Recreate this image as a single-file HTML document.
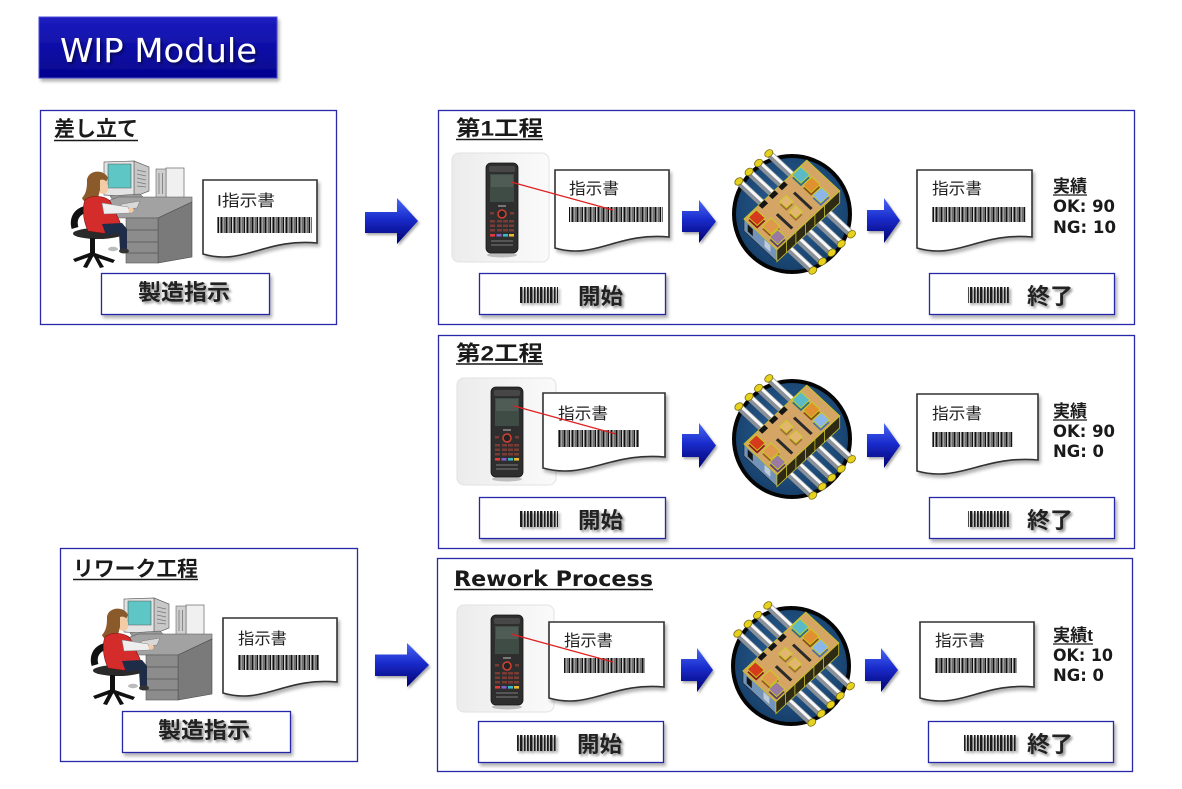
<!DOCTYPE html>
<html><head><meta charset="utf-8"><style>
html,body{margin:0;padding:0;background:#fff;}
svg{display:block;}
.cj{font-family:"Liberation Sans","Noto Sans CJK JP",sans-serif;}
.dv{font-family:"DejaVu Sans","Liberation Sans","Noto Sans CJK JP",sans-serif;}
</style></head><body>
<svg width="1182" height="789" viewBox="0 0 1182 789" xmlns="http://www.w3.org/2000/svg">
<defs>
 <filter id="sh" x="-10%" y="-10%" width="130%" height="140%"><feDropShadow dx="2" dy="3" stdDeviation="1.6" flood-color="#000" flood-opacity="0.3"/></filter>
 <filter id="tsh" x="-10%" y="-20%" width="130%" height="160%"><feDropShadow dx="2" dy="2" stdDeviation="1.3" flood-color="#000" flood-opacity="0.45"/></filter>
 <filter id="ash" x="-10%" y="-10%" width="130%" height="130%"><feDropShadow dx="1.5" dy="2" stdDeviation="1.2" flood-color="#000" flood-opacity="0.35"/></filter>
 <pattern id="bc" patternUnits="userSpaceOnUse" width="13" height="40">
  <rect x="0" y="0" width="1.6" height="40" fill="#111"/>
  <rect x="2.6" y="0" width="1" height="40" fill="#111"/>
  <rect x="4.4" y="0" width="2.2" height="40" fill="#111"/>
  <rect x="7.6" y="0" width="1" height="40" fill="#111"/>
  <rect x="9.4" y="0" width="1.6" height="40" fill="#111"/>
  <rect x="11.8" y="0" width="0.8" height="40" fill="#111"/>
 </pattern>
 <pattern id="bc2" patternUnits="userSpaceOnUse" width="10" height="40">
  <rect x="0" y="0" width="2.4" height="40" fill="#1a1a1a"/>
  <rect x="4" y="0" width="1.6" height="40" fill="#1a1a1a"/>
  <rect x="7" y="0" width="1.8" height="40" fill="#1a1a1a"/>
 </pattern>
 <linearGradient id="ag" x1="0" y1="0" x2="0" y2="1">
  <stop offset="0" stop-color="#4868f4"/>
  <stop offset="0.45" stop-color="#1a2ccc"/>
  <stop offset="1" stop-color="#00006e"/>
 </linearGradient>
 <linearGradient id="wg" x1="0" y1="0" x2="0" y2="1">
  <stop offset="0" stop-color="#1c1cc0"/>
  <stop offset="1" stop-color="#03038e"/>
 </linearGradient>
 <linearGradient id="pg" x1="0" y1="0" x2="1" y2="0">
  <stop offset="0" stop-color="#ececec"/>
  <stop offset="1" stop-color="#fafafa"/>
 </linearGradient>
 <radialGradient id="fg" cx="0.5" cy="0.45" r="0.55">
  <stop offset="0" stop-color="#2d659c"/>
  <stop offset="1" stop-color="#163f6a"/>
 </radialGradient>

 <g id="rU">
  <line x1="0" y1="-31" x2="0" y2="4" stroke="#8a9098" stroke-width="7.5"/>
  <line x1="1.5" y1="-31" x2="1.5" y2="4" stroke="#f8f8f8" stroke-width="3"/>
  <ellipse cx="0" cy="-31" rx="4.4" ry="3.3" fill="#e6d21e" stroke="#7a6c10" stroke-width=".8"/>
 </g>
 <g id="rL">
  <line x1="0" y1="45" x2="0" y2="76" stroke="#8a9098" stroke-width="7.5"/>
  <line x1="1.5" y1="45" x2="1.5" y2="76" stroke="#f8f8f8" stroke-width="3"/>
  <ellipse cx="0" cy="76" rx="4.4" ry="3.3" fill="#e6d21e" stroke="#7a6c10" stroke-width=".8"/>
 </g>

 <g id="fac">
  <circle r="58" fill="url(#fg)" stroke="#050505" stroke-width="4"/>
  <g transform="matrix(0.73,-0.684,0.732,0.682,-48,5)">
   <use href="#rU" x="24"/><use href="#rU" x="38"/><use href="#rU" x="51"/><use href="#rU" x="65"/>
  </g>
  <polygon points="-48,5 -15.1,35.7 -15.1,47.7 -48,17" fill="#7393b8" stroke="#222" stroke-width=".6"/>
  <polygon points="-44.3,10.4 -39.2,15.2 -39.2,22.2 -44.3,17.4" fill="#151515"/>
  <polygon points="-27.5,25.6 -21.6,31.1 -21.6,38.1 -27.5,32.6" fill="#c0cad8"/>
  <polygon points="-15.1,35.7 47.7,-23.1 47.7,-11.1 -15.1,47.7" fill="#2e2a14" stroke="#c9c12a" stroke-width=".8"/>
  <g stroke="#c9c12a" stroke-width=".8">
   <line x1="-5.6" y1="26.8" x2="-5.6" y2="38.8"/><line x1="3.9" y1="17.9" x2="3.9" y2="29.9"/>
   <line x1="13.4" y1="9" x2="13.4" y2="21"/><line x1="22.9" y1="0.1" x2="22.9" y2="12.1"/>
   <line x1="32.4" y1="-8.8" x2="32.4" y2="3.2"/>
  </g>
  <polygon points="-48,5 14.8,-53.8 47.7,-23.1 -15.1,35.7" fill="#d4a565" stroke="#c9c12a" stroke-width="1"/>
  <g transform="matrix(0.73,-0.684,0.732,0.682,-48,5)">
   <rect x="20" y="0" width="8" height="5" fill="#151515"/>
   <rect x="34" y="0" width="8" height="5" fill="#151515"/>
   <rect x="47" y="0" width="8" height="5" fill="#151515"/>
   <rect x="24.5" y="19" width="3" height="21" fill="#2a2a2a"/>
   <rect x="52" y="15" width="3" height="24" fill="#2a2a2a"/>
   <rect x="2" y="4" width="11" height="12" fill="#8a1c0c"/>
   <rect x="5" y="20" width="12" height="12" fill="#9a5a20"/>
   <rect x="2" y="33" width="11" height="11" fill="#5a4060"/>
   <rect x="63" y="3" width="12" height="12" fill="#2a7080"/>
   <rect x="63" y="18" width="12" height="11" fill="#8a5010"/>
   <rect x="62" y="32" width="12" height="11" fill="#4a70a8"/>
   <rect x="35" y="14" width="9" height="9" fill="#a07030"/>
   <rect x="34" y="28" width="9" height="9" fill="#a07030"/>
  </g>
  <g transform="translate(0,-3)"><g transform="matrix(0.73,-0.684,0.732,0.682,-48,5)" stroke="#c8d020" stroke-width=".9">
   <rect x="2" y="4" width="11" height="12" fill="#d63a1c"/>
   <rect x="5" y="20" width="12" height="12" fill="#e0984c"/>
   <rect x="2" y="33" width="11" height="11" fill="#9a7aa2"/>
   <rect x="63" y="3" width="12" height="12" fill="#5cbac8"/>
   <rect x="63" y="18" width="12" height="11" fill="#e09030"/>
   <rect x="62" y="32" width="12" height="11" fill="#8cb6ea"/>
   <rect x="35" y="14" width="9" height="9" fill="#e4b472"/>
   <rect x="34" y="28" width="9" height="9" fill="#e4b472"/>
  </g></g>
  <g transform="matrix(0.73,-0.684,0.732,0.682,-48,17)">
   <use href="#rL" x="18"/><use href="#rL" x="31"/><use href="#rL" x="44"/><use href="#rL" x="57"/><use href="#rL" x="71"/>
  </g>
 </g>

 <g id="phone">
  <ellipse cx="16" cy="92" rx="15" ry="2.5" fill="#000" opacity=".22"/>
  <rect x="0" y="0" width="32" height="90" rx="5" fill="#2e2e2e" stroke="#151515" stroke-width=".8"/>
  <rect x="3" y="3" width="26" height="6" rx="2" fill="#474747"/>
  <rect x="4" y="11" width="24" height="28" fill="#3f4c46"/>
  <rect x="5" y="12" width="22" height="12" fill="#5d6b64" opacity=".5"/>
  <rect x="12" y="42" width="8" height="2" fill="#777"/>
  <circle cx="16" cy="51" r="4" fill="#222" stroke="#d04030" stroke-width="1.6"/>
  <g fill="#7a3b34">
   <rect x="4" y="49" width="4" height="2.5"/><rect x="24" y="49" width="4" height="2.5"/>
   <rect x="4" y="57" width="5" height="2.5"/><rect x="11" y="57" width="5" height="2.5"/><rect x="17" y="57" width="5" height="2.5"/><rect x="23" y="57" width="5" height="2.5"/>
   <rect x="4" y="61.5" width="5" height="2.5"/><rect x="11" y="61.5" width="5" height="2.5"/><rect x="17" y="61.5" width="5" height="2.5"/><rect x="23" y="61.5" width="5" height="2.5"/>
   <rect x="4" y="66" width="5" height="2.5"/><rect x="11" y="66" width="5" height="2.5"/><rect x="17" y="66" width="5" height="2.5"/><rect x="23" y="66" width="5" height="2.5"/>
  </g>
  <rect x="4" y="71" width="5" height="2.6" fill="#e03a3a"/>
  <rect x="10.5" y="71" width="5" height="2.6" fill="#8060c8"/>
  <rect x="17" y="71" width="5" height="2.6" fill="#3ab8c8"/>
  <rect x="23" y="71" width="5" height="2.6" fill="#e8b830"/>
  <rect x="5" y="77" width="22" height="2" fill="#555"/>
  <rect x="5" y="81" width="22" height="2" fill="#555"/>
 </g>

 <g id="person">
  <rect x="96" y="8" width="18" height="33" fill="#f0f0f0" stroke="#666" stroke-width=".7"/>
  <rect x="86" y="9" width="10" height="32" fill="#cfcfcf" stroke="#666" stroke-width=".6"/>
  <line x1="89" y1="13" x2="89" y2="34" stroke="#777" stroke-width=".8"/>
  <line x1="92.5" y1="13" x2="92.5" y2="34" stroke="#777" stroke-width=".8"/>
  <polygon points="64,1 79,7 79,31 64,37" fill="#c8c8c8" stroke="#666" stroke-width=".7"/>
  <g stroke="#777" stroke-width=".7"><line x1="67" y1="10" x2="76" y2="12"/><line x1="67" y1="14" x2="76" y2="16"/><line x1="67" y1="18" x2="76" y2="20"/><line x1="67" y1="22" x2="76" y2="24"/><line x1="67" y1="26" x2="76" y2="27"/></g>
  <polygon points="34,2 64,1 64,37 34,35" fill="#e4e4e4" stroke="#666" stroke-width=".7"/>
  <polygon points="38,4 61,4 61,28 38,28" fill="#5fc6c6" stroke="#555" stroke-width=".6"/>
  <polygon points="40,36 70,34 76,40 44,42" fill="#9a9a9a" stroke="#555" stroke-width=".5"/>
  <polygon points="30,44 48,37 122,37 122,42 88,58 40,58" fill="#a2a2a2" stroke="#555" stroke-width=".6"/>
  <polygon points="88,58 122,42 122,97 88,103" fill="#7a7a7a" stroke="#4a4a4a" stroke-width=".6"/>
  <rect x="56" y="58" width="32" height="45" fill="#8c8c8c" stroke="#555" stroke-width=".6"/>
  <g stroke="#555" stroke-width=".7"><line x1="56" y1="70" x2="88" y2="70"/><line x1="56" y1="82" x2="88" y2="82"/><line x1="56" y1="93" x2="88" y2="93"/></g>
  <polygon points="52,44 70,41 67,48 48,50" fill="#d8d8d8" stroke="#777" stroke-width=".5"/>
  <path d="M5,68 C1,54 14,45 28,51" fill="none" stroke="#111" stroke-width="7"/>
  <rect x="17" y="55" width="6" height="20" fill="#111"/>
  <ellipse cx="28" cy="73.5" rx="25" ry="5.5" fill="#2a2a2a"/>
  <path d="M17,22 C16,10 34,8 38,18 L36,22 C32,20 30,24 30,30 L28,38 C24,44 14,44 12,38 C16,34 17,28 17,22 Z" fill="#8b5a2b"/>
  <path d="M30,20 C36,18 39,24 38,30 C37,34 33,35 30,33 Z" fill="#f3cba5"/>
  <path d="M15,40 C20,35 34,35 40,41 L50,62 C52,70 44,74 32,73 L18,71 C13,60 12,48 15,40 Z" fill="#d42b2b" stroke="#7a1010" stroke-width=".6"/>
  <path d="M32,43 L58,47 L60,53 L34,54 Z" fill="#eeeeee" stroke="#888" stroke-width=".5"/>
  <circle cx="61" cy="50" r="2.6" fill="#f3cba5"/>
  <path d="M32,64 L52,63 L57,69 L57,90 L50,90 L49,73 L36,75 Z" fill="#1f2c48"/>
  <ellipse cx="54" cy="91" rx="5" ry="2.5" fill="#333"/>
  <ellipse cx="43" cy="89" rx="5" ry="2.2" fill="#bbb"/>
  <rect x="20" y="78" width="5" height="15" fill="#111"/>
  <path d="M22,92 L3,99 L5,102 L22,96 L43,103 L45,100 Z M20,94 L13,107 L17,108 L24,95 Z M23,95 L30,108 L34,107 L26,94 Z" fill="#111"/>
 </g>
</defs>

<rect x="39" y="17" width="238" height="61" fill="url(#wg)" stroke="#4a4ad8" stroke-width="1" filter="url(#sh)"/>
<text x="60" y="62" class="dv" font-size="33" fill="#fff" textLength="197" lengthAdjust="spacingAndGlyphs" filter="url(#tsh)">WIP Module</text>

<g fill="#fff" stroke="#2828a8" stroke-width="1.3">
 <rect x="40.5" y="110.5" width="296" height="214"/>
 <rect x="438.5" y="110.5" width="696" height="214"/>
 <rect x="438.5" y="335.5" width="696" height="213"/>
 <rect x="437.5" y="558.5" width="695" height="213"/>
 <rect x="60.5" y="548.5" width="297" height="213"/>
</g>

<g class="cj" font-weight="bold" font-size="21" fill="#1a1a1a">
 <text x="54" y="136" textLength="84" lengthAdjust="spacingAndGlyphs">差し立て</text>
 <text x="456" y="135.5" textLength="87" lengthAdjust="spacingAndGlyphs">第1工程</text>
 <text x="456" y="360.5" textLength="87" lengthAdjust="spacingAndGlyphs">第2工程</text>
 <text x="73" y="576" textLength="125" lengthAdjust="spacingAndGlyphs">リワーク工程</text>
</g>
<text x="454" y="586" class="dv" font-weight="bold" font-size="21" fill="#1a1a1a" textLength="199" lengthAdjust="spacingAndGlyphs">Rework Process</text>
<g stroke="#1a1a1a" stroke-width="1.6">
 <line x1="54" y1="140.5" x2="138" y2="140.5"/>
 <line x1="456" y1="139.5" x2="543" y2="139.5"/>
 <line x1="456" y1="364" x2="543" y2="364"/>
 <line x1="454" y1="589.5" x2="653" y2="589.5"/>
 <line x1="73" y1="579.5" x2="198" y2="579.5"/>
</g>

<use href="#person" transform="translate(70,160)"/>
<use href="#person" transform="translate(90,597)"/>

<rect x="452" y="153" width="97" height="109" rx="7" fill="url(#pg)" stroke="#e2e2e2"/>
<rect x="457" y="378" width="99" height="107" rx="7" fill="url(#pg)" stroke="#e2e2e2"/>
<rect x="457" y="605" width="97" height="107" rx="7" fill="url(#pg)" stroke="#e2e2e2"/>
<use href="#phone" transform="translate(486,163)"/>
<use href="#phone" transform="translate(491,387)"/>
<use href="#phone" transform="translate(491,615)"/>

<g fill="#fff" stroke="#333" stroke-width="1.6" filter="url(#sh)">
 <path d="M203,180 H317 V243 C265.7,238 242.9,266 203,254 Z"/>
 <path d="M555,170 H669 V237 C617.7,232 594.9,260 555,248 Z"/>
 <path d="M917,170 H1032 V237 C980.3,232 957.3,260 917,248 Z"/>
 <path d="M543,393 H665 V457 C610.1,452 585.7,480 543,468 Z"/>
 <path d="M917,394 H1038 V460 C983.6,455 959.4,483 917,471 Z"/>
 <path d="M549,622 H664 V687 C612.3,682 589.3,710 549,698 Z"/>
 <path d="M920,622 H1034 V687 C982.7,682 959.9,710 920,698 Z"/>
 <path d="M223,618 H337 V682 C285.7,677 262.9,705 223,693 Z"/>
</g>
<g class="cj" font-size="16" fill="#222">
 <text x="217" y="206" textLength="58" lengthAdjust="spacingAndGlyphs">I指示書</text>
 <text x="569" y="194" textLength="50" lengthAdjust="spacingAndGlyphs">指示書</text>
 <text x="932" y="194" textLength="50" lengthAdjust="spacingAndGlyphs">指示書</text>
 <text x="558" y="419" textLength="50" lengthAdjust="spacingAndGlyphs">指示書</text>
 <text x="932" y="419" textLength="50" lengthAdjust="spacingAndGlyphs">指示書</text>
 <text x="564" y="646" textLength="49" lengthAdjust="spacingAndGlyphs">指示書</text>
 <text x="935" y="646" textLength="50" lengthAdjust="spacingAndGlyphs">指示書</text>
 <text x="238" y="644" textLength="49" lengthAdjust="spacingAndGlyphs">指示書</text>
</g>
<g fill="url(#bc)">
 <rect x="217" y="217" width="95" height="16"/>
 <rect x="569" y="207" width="94" height="15"/>
 <rect x="932" y="207" width="94" height="15"/>
 <rect x="558" y="430" width="81" height="17"/>
 <rect x="932" y="432" width="81" height="15"/>
 <rect x="564" y="658" width="81" height="15"/>
 <rect x="935" y="658" width="82" height="15"/>
 <rect x="238" y="655" width="81" height="15"/>
</g>

<g stroke="#e02020" stroke-width="1.3">
 <line x1="511" y1="182" x2="613" y2="210"/>
 <line x1="514" y1="406" x2="616" y2="434"/>
 <line x1="511" y1="634" x2="613" y2="662"/>
</g>

<use href="#fac" transform="translate(792,214)"/>
<use href="#fac" transform="translate(792,439)"/>
<use href="#fac" transform="translate(791,666)"/>

<g fill="url(#ag)" filter="url(#ash)">
 <path d="M365,212 H397 V198 L418,221 L397,244 V233 H365 Z"/>
 <path d="M375,654.5 H407 V643 L429,665 L407,687 V676 H375 Z"/>
 <path d="M682,211 H699 V200 L716,221.5 L699,243 V232 H682 Z"/>
 <path d="M867,210 H884 V198 L900,220.5 L884,243 V231 H867 Z"/>
 <path d="M682,434 H699 V423 L716,445.5 L699,468 V457 H682 Z"/>
 <path d="M867,434 H884 V423 L900,445.5 L884,468 V457 H867 Z"/>
 <path d="M681,659 H697 V648 L713,670 L697,692 V681 H681 Z"/>
 <path d="M865,659 H881 V648 L898,670 L881,692 V681 H865 Z"/>
</g>

<g class="cj" font-weight="bold" font-size="17" fill="#1a1a1a">
 <text x="1053" y="192" textLength="34" lengthAdjust="spacingAndGlyphs">実績</text>
 <text x="1053" y="417" textLength="34" lengthAdjust="spacingAndGlyphs">実績</text>
 <text x="1053" y="641" textLength="40" lengthAdjust="spacingAndGlyphs">実績t</text>
</g>
<g stroke="#1a1a1a" stroke-width="1.3">
 <line x1="1053" y1="195" x2="1087" y2="195"/>
 <line x1="1053" y1="420" x2="1087" y2="420"/>
 <line x1="1053" y1="644" x2="1093" y2="644"/>
</g>
<g class="dv" font-weight="bold" font-size="16.5" fill="#1a1a1a">
 <text x="1053" y="212" textLength="62" lengthAdjust="spacingAndGlyphs">OK: 90</text>
 <text x="1053" y="233" textLength="63" lengthAdjust="spacingAndGlyphs">NG: 10</text>
 <text x="1053" y="437" textLength="62" lengthAdjust="spacingAndGlyphs">OK: 90</text>
 <text x="1053" y="457" textLength="51" lengthAdjust="spacingAndGlyphs">NG: 0</text>
 <text x="1053" y="661" textLength="60" lengthAdjust="spacingAndGlyphs">OK: 10</text>
 <text x="1053" y="681" textLength="51" lengthAdjust="spacingAndGlyphs">NG: 0</text>
</g>

<g fill="#fff" stroke="#2828a8" stroke-width="1.3" filter="url(#sh)">
 <rect x="101.5" y="273.5" width="168" height="41"/>
 <rect x="122.5" y="711.5" width="168" height="41"/>
 <rect x="479.5" y="273.5" width="186" height="41"/>
 <rect x="929.5" y="273.5" width="185" height="41"/>
 <rect x="479.5" y="497.5" width="186" height="41"/>
 <rect x="929.5" y="497.5" width="185" height="41"/>
 <rect x="478.5" y="721.5" width="185" height="41"/>
 <rect x="928.5" y="721.5" width="185" height="41"/>
</g>
<g fill="url(#bc2)" filter="url(#tsh)">
 <rect x="519" y="287" width="39" height="16"/>
 <rect x="968" y="287" width="42" height="16"/>
 <rect x="519" y="511" width="39" height="16"/>
 <rect x="968" y="511" width="42" height="16"/>
 <rect x="517" y="735" width="39" height="16"/>
 <rect x="963" y="735" width="54" height="16"/>
</g>
<g class="cj" font-weight="bold" font-size="22" fill="#222" filter="url(#tsh)">
 <text x="138" y="300" textLength="92" lengthAdjust="spacingAndGlyphs">製造指示</text>
 <text x="158" y="738" textLength="92" lengthAdjust="spacingAndGlyphs">製造指示</text>
 <text x="578" y="304" textLength="45" lengthAdjust="spacingAndGlyphs">開始</text>
 <text x="1027" y="304" textLength="46" lengthAdjust="spacingAndGlyphs">終了</text>
 <text x="578" y="528" textLength="45" lengthAdjust="spacingAndGlyphs">開始</text>
 <text x="1027" y="528" textLength="46" lengthAdjust="spacingAndGlyphs">終了</text>
 <text x="577" y="752" textLength="45" lengthAdjust="spacingAndGlyphs">開始</text>
 <text x="1027" y="752" textLength="46" lengthAdjust="spacingAndGlyphs">終了</text>
</g>
</svg>
</body></html>
